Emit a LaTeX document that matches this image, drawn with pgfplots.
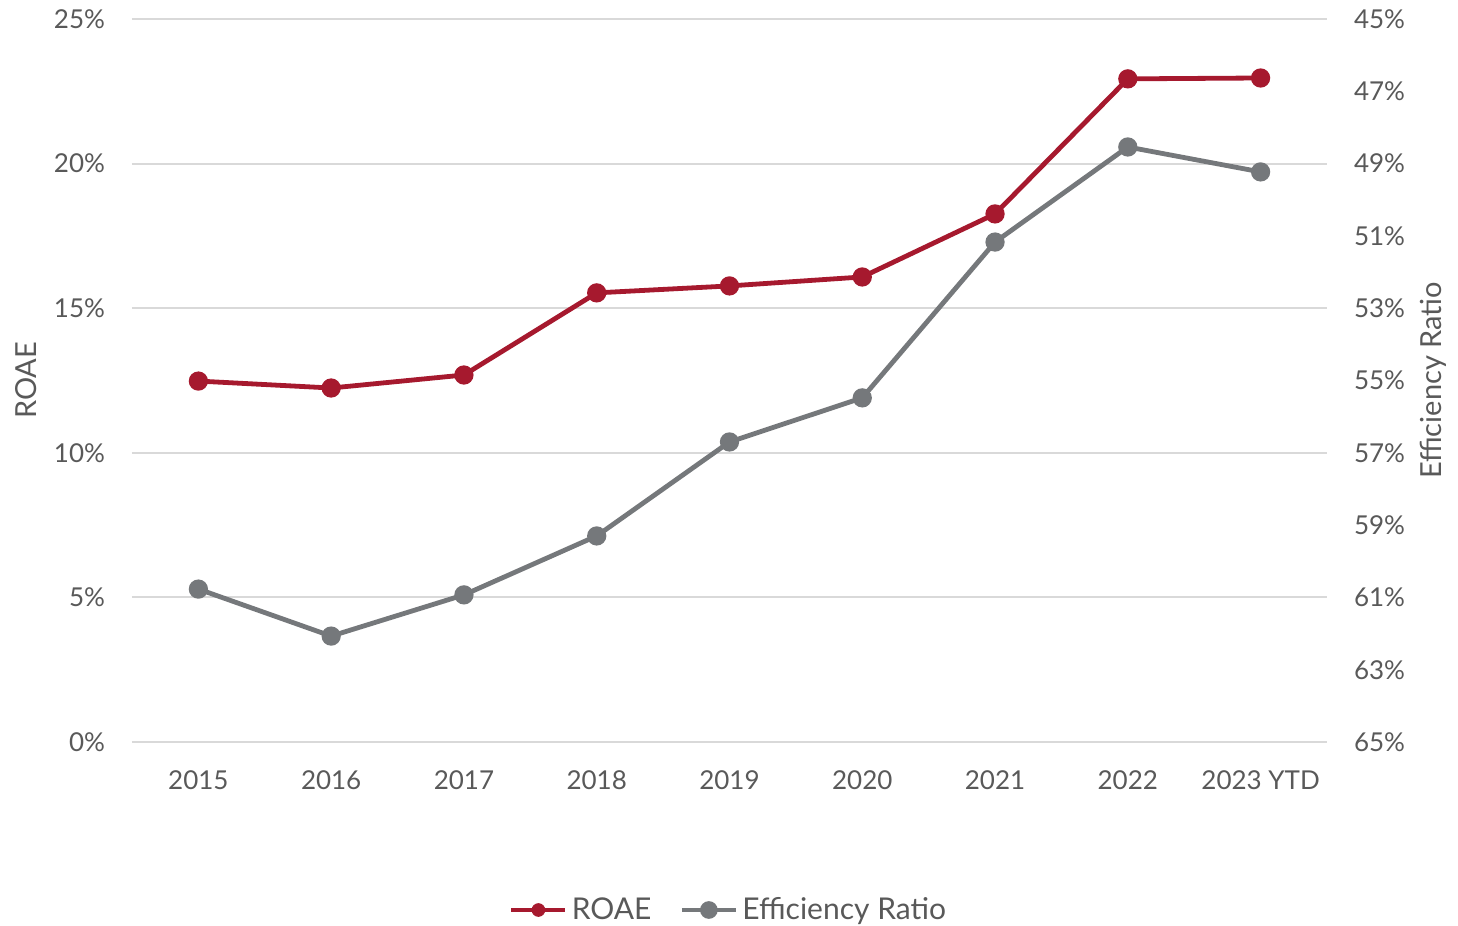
\documentclass[border=0pt]{standalone}
\usepackage{fontspec}
\setmainfont{Lato}
\usepackage{pgfplots}
\pgfplotsset{compat=1.18}
\definecolor{roae}{HTML}{A6192E}
\definecolor{eff}{HTML}{75787B}
\definecolor{txt}{HTML}{595959}
\definecolor{grid}{HTML}{D9D9D9}
\begin{document}
\begin{tikzpicture}
\useasboundingbox (-66pt,-92pt) rectangle (663pt,371pt);
\pgfplotsset{
  base/.style={
    scale only axis, width=597.5pt, height=361.5pt,
    at={(0,0)}, anchor=south west,
    xmin=-0.5, xmax=8.5,
    tick style={draw=none},
    major tick length=0pt,
    axis line style={draw=none},
    tick label style={font=\fontsize{13}{15}\selectfont, text=txt},
    label style={font=\fontsize{14.5}{17}\selectfont, text=txt},
    /pgf/number format/assume math mode=true,
  }
}
\begin{axis}[base,
  ymin=0, ymax=25, ytick={0,5,10,15,20,25},
  yticklabel={\pgfmathprintnumber{\tick}\%},
  ymajorgrids, grid style={draw=grid, line width=1pt},
  xtick={0,...,8},
  xticklabels={2015,2016,2017,2018,2019,2020,2021,2022,2023 YTD},
  xticklabel style={yshift=-11pt},
  yticklabel style={xshift=-10pt},
  ylabel={ROAE},
  ylabel style={at={(axis description cs:0,0.5)}, rotate=0, anchor=center, yshift=53pt},
]
\addplot[roae, line width=2.4pt, mark=*, mark size=3.6pt, mark options={solid, fill=roae}]
coordinates {(0,12.48) (1,12.24) (2,12.69) (3,15.53) (4,15.77) (5,16.08) (6,18.26) (7,22.93) (8,22.96)};
\end{axis}
\begin{axis}[base,
  ymin=45, ymax=65, y dir=reverse,
  ytick={45,47,...,65},
  yticklabel={\pgfmathprintnumber{\tick}\%},
  axis y line*=right,
  axis x line=none,
  yticklabel style={xshift=10pt},
  ylabel={Efficiency Ratio},
  ylabel style={at={(axis description cs:1,0.5)}, rotate=0, anchor=center, yshift=-53pt},
  legend style={at={(axis description cs:0.5,0)}, anchor=center, yshift=-84pt,
    draw=none, fill=none, font=\fontsize{15}{17}\selectfont, text=txt,
    legend columns=2, column sep=0pt,
    /tikz/every even column/.append style={column sep=12pt}},
  legend image code/.code={\draw[#1, line width=2.4pt] (0pt,0pt) -- (27pt,0pt); \fill[#1] (13.5pt,0pt) circle (3.2pt);},
]
\addlegendimage{roae}
\addlegendentry{ROAE}
\addplot[eff, line width=2.4pt, mark=*, mark size=3.6pt, mark options={solid, fill=eff}]
coordinates {(0,60.77) (1,62.07) (2,60.93) (3,59.30) (4,56.70) (5,55.48) (6,51.17) (7,48.54) (8,49.23)};
\addlegendentry{Efficiency Ratio}
\end{axis}
\end{tikzpicture}
\end{document}
